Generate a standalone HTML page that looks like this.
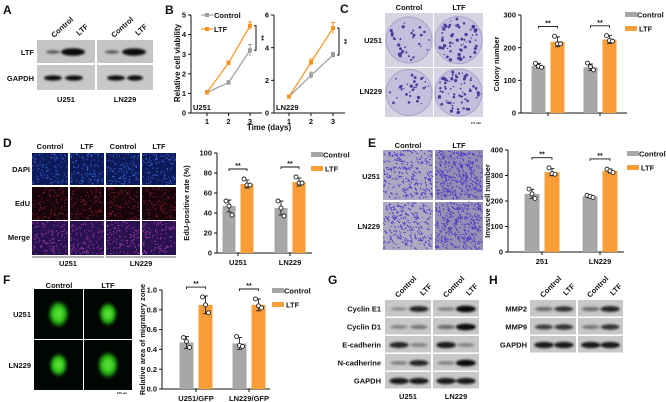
<!DOCTYPE html>
<html><head><meta charset="utf-8">
<style>
html,body{margin:0;padding:0;background:#fff;}
svg{display:block;font-family:"Liberation Sans",Arial,sans-serif;font-weight:bold;}
text{fill:#111;}
</style></head>
<body>
<svg id="fig" width="666" height="402" viewBox="0 0 666 402" xmlns="http://www.w3.org/2000/svg">
<defs>
<filter id="blur" x="-50%" y="-100%" width="200%" height="300%"><feGaussianBlur stdDeviation="1.1"/></filter>
<radialGradient id="gfp" cx="50%" cy="50%" r="50%"><stop offset="0" stop-color="#60e040"/><stop offset="0.35" stop-color="#3fd020"/><stop offset="0.6" stop-color="#1a8a10"/><stop offset="1" stop-color="#000" stop-opacity="0"/></radialGradient>
</defs>
<g id="static" font-size="7.5">
<text x="3" y="14" font-size="12">A</text>
<text x="165" y="14" font-size="12">B</text>
<text x="340" y="13" font-size="12">C</text>
<text x="3" y="147" font-size="12">D</text>
<text x="368" y="147" font-size="12">E</text>
<text x="3" y="284" font-size="12">F</text>
<text x="328" y="284" font-size="12">G</text>
<text x="489" y="284" font-size="12">H</text>

<g>
<rect x="37" y="40" width="58" height="23" fill="#c4c4c4"/>
<rect x="37" y="65" width="58" height="25" fill="#c8c8c8"/>
<rect x="97" y="40" width="56" height="23" fill="#c4c4c4"/>
<rect x="97" y="65" width="56" height="25" fill="#c8c8c8"/>
<g filter="url(#blur)" fill="#111">
<ellipse cx="53" cy="52" rx="7" ry="1.6" fill="#555"/>
<ellipse cx="73" cy="52" rx="12" ry="3.8"/>
<ellipse cx="53" cy="78" rx="9" ry="2.6"/>
<ellipse cx="74" cy="78" rx="9" ry="2.6"/>
<ellipse cx="112" cy="52" rx="7" ry="1.6" fill="#555"/>
<ellipse cx="134" cy="52" rx="12" ry="3.6"/>
<ellipse cx="116" cy="78" rx="9" ry="2.6"/>
<ellipse cx="135" cy="78" rx="8" ry="2.6"/>
</g></g>
<text x="34" y="55" text-anchor="end">LTF</text>
<text x="34" y="81" text-anchor="end">GAPDH</text>
<text transform="translate(54,38) rotate(-42)">Control</text>
<text transform="translate(79,36) rotate(-42)">LTF</text>
<text transform="translate(114,38) rotate(-42)">Control</text>
<text transform="translate(138,36) rotate(-42)">LTF</text>
<text x="66" y="102" text-anchor="middle">U251</text>
<text x="125" y="102" text-anchor="middle">LN229</text>

<g id="plates"></g>
<text x="409" y="10" text-anchor="middle">Control</text>
<text x="459" y="10" text-anchor="middle">LTF</text>
<text x="382" y="43" text-anchor="end">U251</text>
<text x="382" y="94" text-anchor="end">LN229</text>
<text x="476" y="124" font-size="3" text-anchor="middle">2.5 mm</text>

<g id="dimg"></g>
<text x="50" y="149" text-anchor="middle">Control</text>
<text x="87" y="149" text-anchor="middle">LTF</text>
<text x="123" y="149" text-anchor="middle">Control</text>
<text x="159" y="149" text-anchor="middle">LTF</text>
<text x="30" y="172" text-anchor="end">DAPI</text>
<text x="30" y="206" text-anchor="end">EdU</text>
<text x="30" y="240" text-anchor="end">Merge</text>
<line x1="32" y1="257" x2="104" y2="257" stroke="#333" stroke-width="0.8"/>
<line x1="106" y1="257" x2="176" y2="257" stroke="#333" stroke-width="0.8"/>
<text x="68" y="266" text-anchor="middle">U251</text>
<text x="141" y="266" text-anchor="middle">LN229</text>

<g id="eimg"></g>
<text x="408" y="148" text-anchor="middle">Control</text>
<text x="459" y="148" text-anchor="middle">LTF</text>
<text x="380" y="179" text-anchor="end">U251</text>
<text x="380" y="229" text-anchor="end">LN229</text>

<g id="fimg"></g>
<text x="59" y="288" text-anchor="middle">Control</text>
<text x="108" y="288" text-anchor="middle">LTF</text>
<text x="31" y="317" text-anchor="end">U251</text>
<text x="31" y="368" text-anchor="end">LN229</text>
<text x="122" y="394" font-size="3" text-anchor="middle">100 μm</text>

<g id="gblot"></g>
<g id="hblot"></g>
</g>
<g id="charts"></g>
</svg>
<script>
// ---------- Chart data ----------
const days = [1, 2, 3];
const bU251Control = [1.05, 1.55, 3.2];
const bU251LTF = [1.05, 2.55, 4.45];
const bLN229Control = [1.0, 2.3, 3.55];
const bLN229LTF = [1.0, 3.1, 5.2];
const bU251ControlErr = [0.1, 0.1, 0.3];
const bU251LTFErr = [0.05, 0.1, 0.2];
const bLN229ControlErr = [0.05, 0.2, 0.15];
const bLN229LTFErr = [0.05, 0.2, 0.35];
const bU251Ticks = [0, 1, 2, 3, 4, 5];
const bLN229Ticks = [0, 2, 4, 6];

const cCategories = ['U251', 'LN229'];
const cControl = [145, 140];
const cLTF = [218, 225];
const cControlPts = [[152, 143, 140], [153, 142, 132]];
const cLTFPts = [[235, 212, 212], [237, 222, 220]];
const cControlErr = [7, 10];
const cLTFErr = [15, 12];
const cTicks = [0, 100, 200, 300];

const dCategories = ['U251', 'LN229'];
const dControl = [47, 45];
const dLTF = [69, 71];
const dControlPts = [[52, 47, 38], [52, 45, 37]];
const dLTFPts = [[74, 68, 68], [76, 70, 70]];
const dControlErr = [6, 7];
const dLTFErr = [4, 4];
const dTicks = [0, 20, 40, 60, 80, 100];

const eCategories = ['251', 'LN229'];
const eControl = [228, 218];
const eLTF = [313, 318];
const eControlPts = [[247, 228, 210], [222, 218, 214]];
const eLTFPts = [[330, 308, 305], [325, 318, 312]];
const eControlErr = [18, 5];
const eLTFErr = [14, 8];
const eTicks = [0, 100, 200, 300, 400];

const fCategories = ['U251/GFP', 'LN229/GFP'];
const fControl = [0.47, 0.46];
const fLTF = [0.85, 0.85];
const fControlPts = [[0.52, 0.48, 0.42], [0.53, 0.44, 0.43]];
const fLTFPts = [[0.93, 0.85, 0.77], [0.91, 0.84, 0.82]];
const fControlErr = [0.06, 0.06];
const fLTFErr = [0.09, 0.06];
const fTicks = [0, 0.2, 0.4, 0.6, 0.8, 1.0];

const GRAY = '#a7a7aa', ORANGE = '#f99d38';
const NS = 'http://www.w3.org/2000/svg';
const charts = document.getElementById('charts');
function el(tag, attrs, parent) {
  const e = document.createElementNS(NS, tag);
  for (const k in attrs) e.setAttribute(k, attrs[k]);
  (parent || charts).appendChild(e);
  return e;
}
function txt(s, x, y, attrs, parent) {
  const t = el('text', Object.assign({x: x, y: y}, attrs || {}), parent);
  t.textContent = s;
  return t;
}
let seed = 7;
function rnd() { seed = (seed * 16807) % 2147483647; return seed / 2147483647; }

// ---------- Line chart (B) ----------
function lineChart(name, ox, x1px, x3px, y0px, ytopPx, ymax, ticks, ctrl, ltf, ctrlE, ltfE, label) {
  const g = el('g', {});
  
  
  const xs = d => x1px + (d - 1) * (x3px - x1px) / 2;
  const ys = v => y0px - v * (y0px - ytopPx) / ymax;
  const ax = el('line', {x1: ox, y1: ytopPx, x2: ox, y2: y0px, stroke: '#111', 'stroke-width': 1}, g);
  
  
  const bx = el('line', {x1: ox, y1: y0px, x2: x3px + 12, y2: y0px, stroke: '#111', 'stroke-width': 1}, g);
  
  
  ticks.forEach(t => {
    el('line', {x1: ox - 3, y1: ys(t), x2: ox, y2: ys(t), stroke: '#111'}, g);
    const tl = txt(String(t), ox - 5, ys(t) + 2.6, {'font-size': 7.5, 'text-anchor': 'end'}, g);
    
    
  });
  days.forEach(d => {
    el('line', {x1: xs(d), y1: y0px, x2: xs(d), y2: y0px + 3, stroke: '#111'}, g);
    const tl = txt(String(d), xs(d), y0px + 11, {'font-size': 7.5, 'text-anchor': 'middle'}, g);
    
    
  });
  [[ctrl, ctrlE, '#9c9c9c', 'control'], [ltf, ltfE, '#f7941d', 'ltf']].forEach(([vals, errs, col, nm]) => {
    const pl = el('polyline', {points: vals.map((v, i) => xs(days[i]) + ',' + ys(v)).join(' '), fill: 'none', stroke: col, 'stroke-width': 1.2}, g);
    
    
    vals.forEach((v, i) => {
      el('line', {x1: xs(days[i]), y1: ys(v + errs[i]), x2: xs(days[i]), y2: ys(v - errs[i]), stroke: col, 'stroke-width': 1}, g);
      el('line', {x1: xs(days[i]) - 2, y1: ys(v + errs[i]), x2: xs(days[i]) + 2, y2: ys(v + errs[i]), stroke: col, 'stroke-width': 1}, g);
      const m = el('rect', {x: xs(days[i]) - 2, y: ys(v) - 2, width: 4, height: 4, fill: col}, g);
      
      
    });
  });
  const lt = txt(label, ox + 2, y0px - 3, {'font-size': 7.5}, g);
  
  
  const bxp = x3px + 6;
  el('path', {d: `M${bxp - 2},${ys(ltf[2])} H${bxp} V${ys(ctrl[2])} H${bxp - 2}`, fill: 'none', stroke: '#111', 'stroke-width': 1}, g);
  const st = txt('**', bxp + 3, (ys(ltf[2]) + ys(ctrl[2])) / 2, {'font-size': 7, transform: `rotate(90 ${bxp + 3} ${(ys(ltf[2]) + ys(ctrl[2])) / 2})`, 'text-anchor': 'middle'}, g);
  
  
  return g;
}
lineChart('line-chart-u251', 191, 207, 250, 113, 15, 5, bU251Ticks, bU251Control, bU251LTF, bU251ControlErr, bU251LTFErr, 'U251');
lineChart('line-chart-ln229', 274, 289, 333, 113, 15, 6, bLN229Ticks, bLN229Control, bLN229LTF, bLN229ControlErr, bLN229LTFErr, 'LN229');
const bYT = txt('Relative cell viability', 0, 0, {'font-size': 8, 'text-anchor': 'middle', transform: 'translate(180,63) rotate(-90)'});


const bXT = txt('Time (days)', 269, 130, {'font-size': 8, 'text-anchor': 'middle'});


const bl1 = el('line', {x1: 201, y1: 15, x2: 213, y2: 15, stroke: '#9c9c9c', 'stroke-width': 1.2});


el('rect', {x: 205, y: 13, width: 4, height: 4, fill: '#9c9c9c'});
const blt1 = txt('Control', 214, 18, {'font-size': 7.5});


const bl2 = el('line', {x1: 201, y1: 29, x2: 213, y2: 29, stroke: '#f7941d', 'stroke-width': 1.2});


el('rect', {x: 205, y: 27, width: 4, height: 4, fill: '#f7941d'});
const blt2 = txt('LTF', 214, 32, {'font-size': 7.5});



// ---------- Bar charts ----------
function barChart(o) {
  const g = el('g', {});
  
  
  const ys = v => o.y0 - v * (o.y0 - o.ytop) / o.max;
  const cx = i => o.c0 + i * o.step;
  const ax = el('line', {x1: o.ax, y1: o.ytop, x2: o.ax, y2: o.y0, stroke: '#111'}, g);
  
  
  const bx = el('line', {x1: o.ax, y1: o.y0, x2: o.xend, y2: o.y0, stroke: '#111'}, g);
  
  
  o.ticks.forEach(t => {
    el('line', {x1: o.ax - 3, y1: ys(t), x2: o.ax, y2: ys(t), stroke: '#111'}, g);
    const tl = txt(o.fmt ? o.fmt(t) : String(t), o.ax - 5, ys(t) + 2.6, {'font-size': 7.5, 'text-anchor': 'end'}, g);
    
    
  });
  o.cats.forEach((c, i) => {
    el('line', {x1: cx(i), y1: o.y0, x2: cx(i), y2: o.y0 + 3, stroke: '#111'}, g);
    if (o.showCats) {
      const tl = txt(c, cx(i), o.y0 + 12, {'font-size': 7.5, 'text-anchor': 'middle'}, g);
      
      
    }
    [[o.ctrl, o.ctrlPts, o.ctrlErr, GRAY, -1, 'control'], [o.ltf, o.ltfPts, o.ltfErr, ORANGE, 1, 'ltf']].forEach(([vals, pts, errs, col, side, nm]) => {
      const bxl = cx(i) + (side < 0 ? -o.gap / 2 - o.bw : o.gap / 2);
      const bc = bxl + o.bw / 2;
      const r = el('rect', {x: bxl, y: ys(vals[i]), width: o.bw, height: o.y0 - ys(vals[i]), fill: col}, g);
      
      
      el('line', {x1: bc, y1: ys(vals[i] + errs[i]), x2: bc, y2: ys(vals[i] - errs[i]), stroke: '#222', 'stroke-width': 0.9}, g);
      el('line', {x1: bc - 2.5, y1: ys(vals[i] + errs[i]), x2: bc + 2.5, y2: ys(vals[i] + errs[i]), stroke: '#222', 'stroke-width': 0.9}, g);
      el('line', {x1: bc - 2.5, y1: ys(vals[i] - errs[i]), x2: bc + 2.5, y2: ys(vals[i] - errs[i]), stroke: '#222', 'stroke-width': 0.9}, g);
      pts[i].forEach((p, k) => {
        const d = el('circle', {cx: bc + (k - 1) * 3, cy: ys(p), r: 2, fill: '#fff', stroke: '#222', 'stroke-width': 0.9}, g);
        
        
      });
    });
    const top = ys(Math.max(o.ltfPts[i][0], o.ctrlPts[i][0]) + o.max * 0.1);
    const l = cx(i) - o.gap / 2 - o.bw / 2, rr = cx(i) + o.gap / 2 + o.bw / 2;
    el('path', {d: `M${l},${top + 2} V${top} H${rr} V${top + 2}`, fill: 'none', stroke: '#111', 'stroke-width': 0.9}, g);
    const st = txt('**', cx(i), top - 1, {'font-size': 7, 'text-anchor': 'middle'}, g);
    
    
  });
  const yt = txt(o.ytitle, 0, 0, {'font-size': 7.5, 'text-anchor': 'middle', transform: `translate(${o.ytx},${(o.y0 + o.ytop) / 2}) rotate(-90)`}, g);
  
  
  const s1 = el('rect', {x: o.lx, y: o.ly - 3, width: 12, height: 5, fill: GRAY}, g);
  
  
  const t1 = txt('Control', o.lx + 12, o.ly + 2.5, {'font-size': 7.5}, g);
  
  
  const s2 = el('rect', {x: o.lx, y: o.ly + 11, width: 12, height: 5, fill: ORANGE}, g);
  
  
  const t2 = txt('LTF', o.lx + 14, o.ly + 16.5, {'font-size': 7.5}, g);
  
  
}
barChart({name: 'bar-chart-colony', ax: 521, xend: 627, y0: 113, ytop: 15, max: 300, ticks: cTicks, cats: cCategories, showCats: false,
  c0: 548, step: 52, bw: 14, gap: 5, ctrl: cControl, ltf: cLTF, ctrlPts: cControlPts, ltfPts: cLTFPts, ctrlErr: cControlErr, ltfErr: cLTFErr,
  ytitle: 'Colony number', ytx: 499, lx: 625, ly: 15});
barChart({name: 'bar-chart-edu', ax: 217, xend: 312, y0: 253, ytop: 153, max: 100, ticks: dTicks, cats: dCategories, showCats: true,
  c0: 238, step: 52, bw: 13, gap: 5, ctrl: dControl, ltf: dLTF, ctrlPts: dControlPts, ltfPts: dLTFPts, ctrlErr: dControlErr, ltfErr: dLTFErr,
  ytitle: 'EdU-positive rate (%)', ytx: 189, lx: 311, ly: 155});
barChart({name: 'bar-chart-invasion', ax: 508, xend: 624, y0: 252, ytop: 150, max: 400, ticks: eTicks, cats: eCategories, showCats: true,
  c0: 542, step: 58, bw: 15, gap: 5, ctrl: eControl, ltf: eLTF, ctrlPts: eControlPts, ltfPts: eLTFPts, ctrlErr: eControlErr, ltfErr: eLTFErr,
  ytitle: 'Invasive cell number', ytx: 490, lx: 627, ly: 154});
barChart({name: 'bar-chart-migration', ax: 162, xend: 270, y0: 389, ytop: 290, max: 1.0, ticks: fTicks, cats: fCategories, showCats: true,
  c0: 196, step: 53, bw: 14, gap: 5, ctrl: fControl, ltf: fLTF, ctrlPts: fControlPts, ltfPts: fLTFPts, ctrlErr: fControlErr, ltfErr: fLTFErr,
  fmt: t => t.toFixed(1), ytitle: 'Relative area of migratory zone', ytx: 145, lx: 272, ly: 291});

// ---------- Image textures ----------
const plates = document.getElementById('plates');
[[385, 13, 48, 54, 30], [434, 13, 49, 54, 70], [385, 68, 48, 49, 30], [434, 68, 49, 49, 75]].forEach(([x, y, w, h, n]) => {
  el('rect', {x: x, y: y, width: w, height: h, fill: '#d6d4e2'}, plates);
  const r = Math.min(w, h) / 2 - 1;
  const pc = el('circle', {cx: x + w / 2, cy: y + h / 2, r: r, fill: '#c3bfdc', stroke: '#a9a4c8', 'stroke-width': 1}, plates);
  
  
  for (let i = 0; i < n; i++) {
    const a = rnd() * 6.283, rr = Math.sqrt(rnd()) * (r - 2);
    el('circle', {cx: x + w / 2 + Math.cos(a) * rr, cy: y + h / 2 + Math.sin(a) * rr, r: 0.6 + rnd() * 1.1, fill: '#4b3a9c'}, plates);
  }
});
const dimg = document.getElementById('dimg');
const dCols = [[32, 36], [70, 34], [106, 34], [142, 34]];
const dRows = [[153, 32, '#0d1a5a', '#3d6fe0'], [187, 33, '#180509', '#8a1d3c'], [221, 34, '#2a1250', '#b040b8']];
dRows.forEach(([y, h, bg, dot]) => dCols.forEach(([x, w]) => {
  const r = el('rect', {x: x, y: y, width: w, height: h, fill: bg}, dimg);
  
  
  for (let i = 0; i < 110; i++) el('rect', {x: x + rnd() * (w - 1), y: y + rnd() * (h - 1), width: 1, height: 1, fill: dot}, dimg);
}));
const eimg = document.getElementById('eimg');
[[383, 150, 50, 50, '#aca8c2', 260], [435, 150, 48, 50, '#9490b4', 380], [383, 202, 50, 48, '#aeaac2', 260], [435, 202, 48, 48, '#9692b4', 360]].forEach(([x, y, w, h, bg, n]) => {
  const r = el('rect', {x: x, y: y, width: w, height: h, fill: bg}, eimg);
  
  
  for (let i = 0; i < n; i++) {
    const px = x + rnd() * (w - 2), py = y + rnd() * (h - 2);
    el('line', {x1: px, y1: py, x2: px + rnd() * 2.5, y2: py + rnd() * 2.5, stroke: '#4a30c8', 'stroke-width': 0.8}, eimg);
  }
});
const fimg = document.getElementById('fimg');
[[34, 289, 49, 50, 0.85], [84, 289, 48, 50, 0.75], [34, 340, 49, 50, 0.75], [84, 340, 48, 50, 0.85]].forEach(([x, y, w, h, s]) => {
  const r = el('rect', {x: x, y: y, width: w, height: h, fill: '#020602'}, fimg);
  
  
  el('ellipse', {cx: x + w / 2, cy: y + h / 2, rx: 15 * s, ry: 19 * s, fill: 'url(#gfp)'}, fimg);
});

// ---------- Western blots G, H ----------
function blot(gEl, x, y, w, rowH, split, labels, intens, lx) {
  labels.forEach((lab, r) => {
    const ry = y + r * rowH;
    el('rect', {x: x, y: ry, width: split - x - 1, height: rowH - 1.5, fill: '#c8c8c8'}, gEl);
    el('rect', {x: split + 1, y: ry, width: x + w - split - 1, height: rowH - 1.5, fill: '#c8c8c8'}, gEl);
    const lanes = [x + (split - x) * 0.3, x + (split - x) * 0.72, split + (x + w - split) * 0.3, split + (x + w - split) * 0.72];
    lanes.forEach((lx2, k) => {
      const v = intens[r][k];
      el('ellipse', {cx: lx2, cy: ry + rowH / 2, rx: 8 + v * 2, ry: 1.2 + v * 2.2, fill: v > 0.5 ? '#111' : '#444', 'fill-opacity': 0.35 + v * 0.65, filter: 'url(#blur)'}, gEl);
    });
    const t = txt(lab, lx, ry + rowH / 2 + 2.6, {'font-size': 7.5, 'text-anchor': 'end'}, gEl);
    
    
  });
}
const gB = document.getElementById('gblot');
blot(gB, 385, 300, 94, 18, 432, ['Cyclin E1', 'Cyclin D1', 'E-cadherin', 'N-cadherine', 'GAPDH'],
  [[0.2, 0.8, 0.3, 1], [0.3, 0.4, 0.5, 1], [0.8, 0.3, 0.9, 0.3], [0.3, 0.8, 0.3, 1], [0.9, 0.9, 0.9, 0.9]], 381);
const hB = document.getElementById('hblot');
blot(hB, 530, 300, 93, 18, 577, ['MMP2', 'MMP9', 'GAPDH'],
  [[0.5, 0.7, 0.5, 0.8], [0.6, 0.7, 0.4, 0.7], [0.9, 0.9, 0.9, 0.9]], 527);
[[gB, 398, 423, 446, 469], [hB, 543, 566, 590, 613]].forEach(([gg, a, b, c, d]) => {
  [[a, 'Control'], [b, 'LTF'], [c, 'Control'], [d, 'LTF']].forEach(([px, s]) => {
    const t = txt(s, 0, 0, {'font-size': 7.5, transform: `translate(${px},${s === 'LTF' ? 296 : 298}) rotate(-45)`}, gg);
    
    
  });
});
const g1 = txt('U251', 408, 399, {'font-size': 7.5, 'text-anchor': 'middle'}, gB);


const g2 = txt('LN229', 456, 399, {'font-size': 7.5, 'text-anchor': 'middle'}, gB);


</script>
</body></html>
